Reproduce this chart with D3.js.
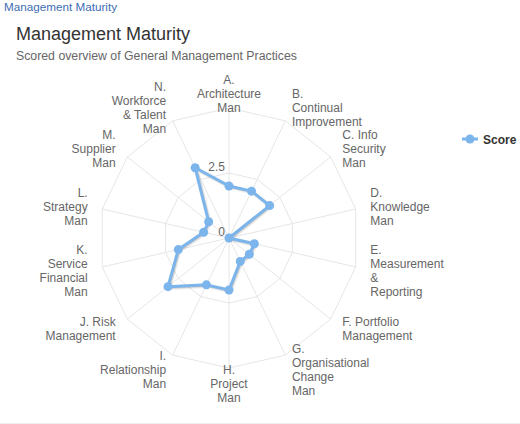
<!DOCTYPE html>
<html>
<head>
<meta charset="utf-8">
<script src="https://cdn.jsdelivr.net/npm/d3@7"></script>
<style>
  body { margin: 0; background: #fff; }
  svg { font-family: "Liberation Sans", Arial, sans-serif; }
</style>
</head>
<body>
<svg class="chart"></svg>
<script>
const categories = [
  ['A.', 'Architecture', 'Man'],
  ['B.', 'Continual', 'Improvement'],
  ['C. Info', 'Security', 'Man'],
  ['D.', 'Knowledge', 'Man'],
  ['E.', 'Measurement', '&', 'Reporting'],
  ['F. Portfolio', 'Management'],
  ['G.', 'Organisational', 'Change', 'Man'],
  ['H.', 'Project', 'Man'],
  ['I.', 'Relationship', 'Man'],
  ['J. Risk', 'Management'],
  ['K.', 'Service', 'Financial', 'Man'],
  ['L.', 'Strategy', 'Man'],
  ['M.', 'Supplier', 'Man'],
  ['N.', 'Workforce', '& Talent', 'Man']
];
const scores = [2, 2, 2, 0, 1, 1, 1, 2, 2, 3, 2, 1, 1, 3];
const gridLevels = [2.5, 5];
const tickLabels = [0, 2.5];
const seriesName = 'Score';

const width = 520, height = 424;
const cx = 229, cy = 238, R = 130;
const color = '#7cb5ec';

const svg = d3.select('.chart').attr('width', width).attr('height', height);

// header texts
svg.append('text').attr('x', 4).attr('y', 11).attr('font-size', 11.7).attr('fill', '#3d6db3')
  .text('Management Maturity');
svg.append('text').attr('x', 16).attr('y', 40).attr('font-size', 18).attr('fill', '#333')
  .text('Management Maturity');
svg.append('text').attr('x', 16).attr('y', 60).attr('font-size', 12.3).attr('fill', '#666')
  .text('Scored overview of General Management Practices');
svg.append('line').attr('x1', 0).attr('x2', width).attr('y1', 423.5).attr('y2', 423.5)
  .attr('stroke', '#eeeeee');

const r = d3.scaleLinear().domain([0, 5]).range([0, R]);
const angle = d3.scaleLinear().domain([0, categories.length]).range([0, 2 * Math.PI]);
const px = (a, rad) => rad * Math.sin(a);
const py = (a, rad) => -rad * Math.cos(a);

const g = svg.append('g').attr('transform', `translate(${cx},${cy})`);

// grid polygons
const idx = d3.range(categories.length);
g.selectAll('.grid').data(gridLevels).join('path')
  .attr('d', lv => d3.line()(idx.map(i => [px(angle(i), r(lv)), py(angle(i), r(lv))])) + 'Z')
  .attr('fill', 'none').attr('stroke', '#e6e6e6');

// spokes
g.selectAll('.spoke').data(idx).join('line')
  .attr('x1', 0).attr('y1', 0)
  .attr('x2', i => px(angle(i), R)).attr('y2', i => py(angle(i), R))
  .attr('stroke', '#e6e6e6');

// y tick labels
g.selectAll('.ytick').data(tickLabels).join('text')
  .attr('x', -4).attr('y', d => -r(d) - 2)
  .attr('text-anchor', 'end').attr('font-size', 12).attr('fill', '#666')
  .text(d => d);

// category labels
const labR = R + 15, lh = 14;
const lab = g.selectAll('.cat').data(categories).join('text')
  .attr('font-size', 12).attr('fill', '#666')
  .attr('text-anchor', (d, i) => {
    const x = px(angle(i), labR);
    return Math.abs(x) < 5 ? 'middle' : (x > 0 ? 'start' : 'end');
  });
lab.each(function (lines, i) {
  const x = px(angle(i), labR), y = py(angle(i), labR);
  const y0 = y - (lines.length - 1) * lh / 2 + 5;
  d3.select(this).selectAll('tspan').data(lines).join('tspan')
    .attr('x', x).attr('y', (t, j) => y0 + j * lh).text(t => t);
});

// series
const radial = d3.lineRadial()
  .angle((d, i) => angle(i))
  .radius(d => r(d))
  .curve(d3.curveLinearClosed);

const shadow = g.append('g').attr('transform', 'translate(1,1)');
[[5, 0.05], [3, 0.1], [1, 0.15]].forEach(([w, o]) => {
  shadow.append('path').attr('d', radial(scores)).attr('fill', 'none')
    .attr('stroke', '#000').attr('stroke-opacity', o).attr('stroke-width', w)
    .attr('stroke-linejoin', 'round');
});
g.append('path').attr('d', radial(scores)).attr('fill', 'none')
  .attr('stroke', color).attr('stroke-width', 3).attr('stroke-linejoin', 'round');

g.selectAll('.pt').data(scores).join('circle')
  .attr('cx', (d, i) => px(angle(i), r(d)))
  .attr('cy', (d, i) => py(angle(i), r(d)))
  .attr('r', 4.5).attr('fill', color);

// legend
const lg = svg.append('g').attr('transform', 'translate(462,139)');
lg.append('line').attr('x1', 0).attr('x2', 16).attr('stroke', color).attr('stroke-width', 3);
lg.append('circle').attr('cx', 8).attr('r', 4.5).attr('fill', color);
lg.append('text').attr('x', 21).attr('y', 5).attr('font-size', 12).attr('font-weight', 'bold')
  .attr('fill', '#333').text(seriesName);
</script>
</body>
</html>
